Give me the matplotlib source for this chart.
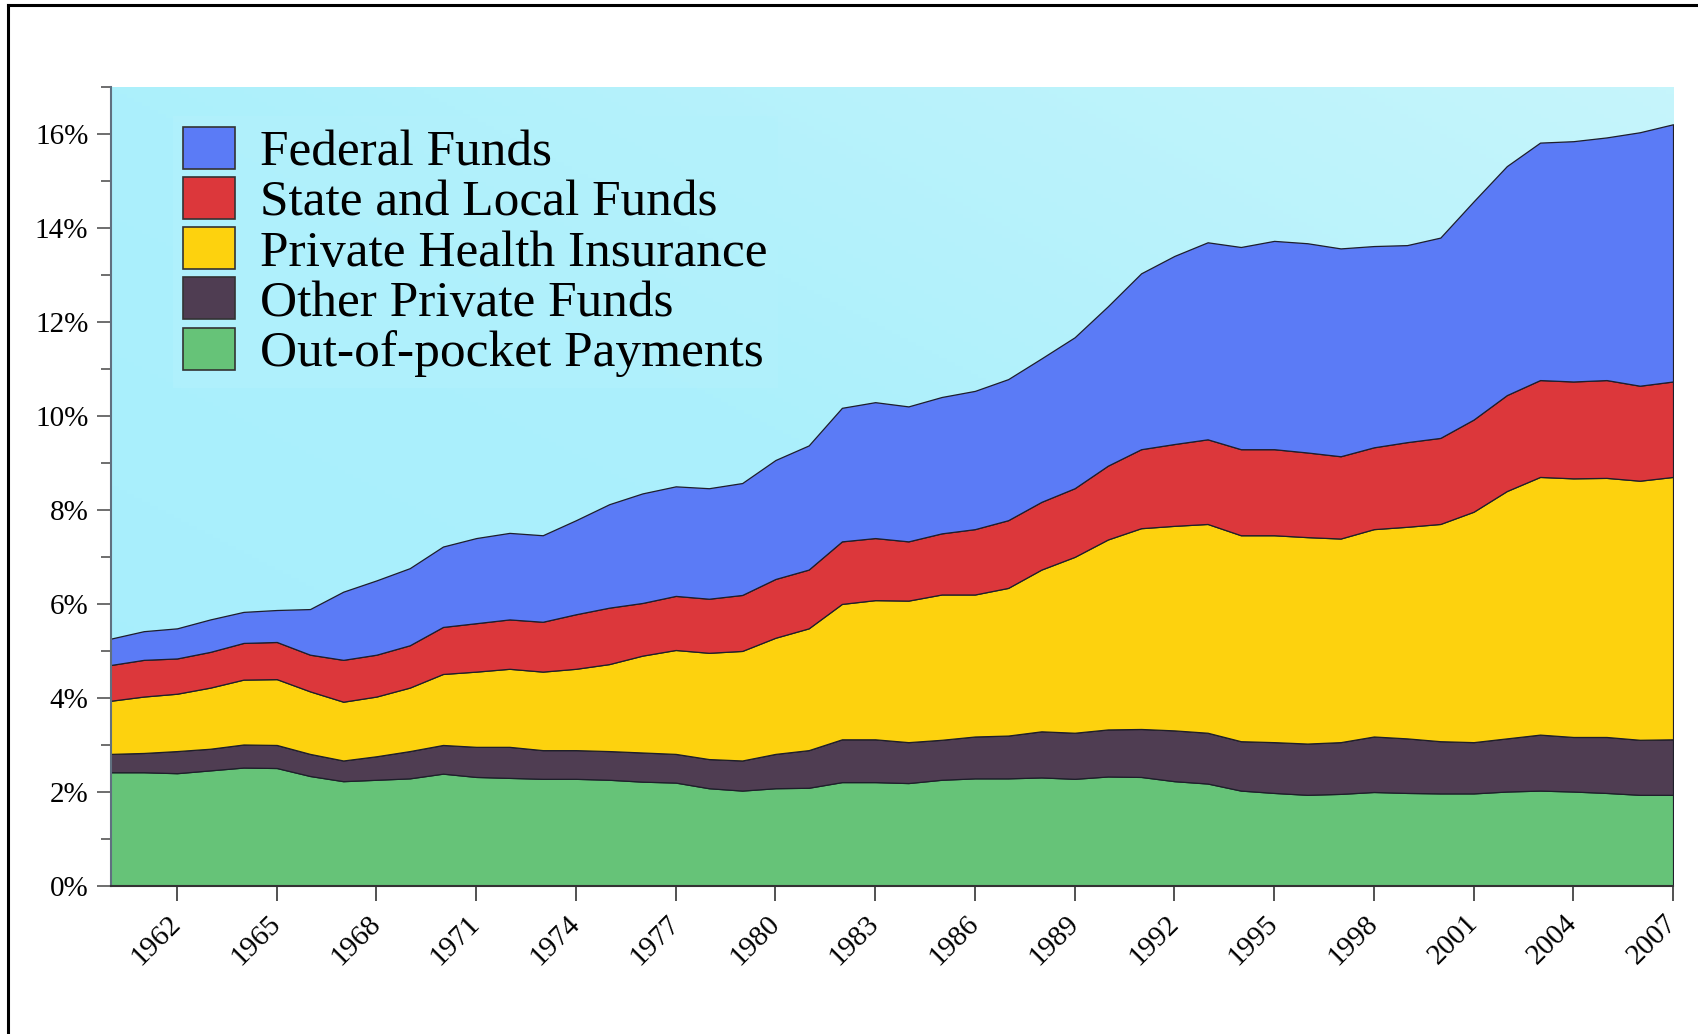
import numpy as np
import matplotlib
matplotlib.use('Agg')
import matplotlib.pyplot as plt
from matplotlib.colors import LinearSegmentedColormap
from matplotlib.ticker import MultipleLocator, FuncFormatter

years = np.arange(1960, 2008)

# share of GDP (%) by source of funds
out_of_pocket = [2.42, 2.42, 2.40, 2.46, 2.52, 2.51, 2.34, 2.23, 2.26, 2.29,
                 2.39, 2.32, 2.30, 2.28, 2.28, 2.26, 2.22, 2.20, 2.08, 2.03,
                 2.08, 2.09, 2.21, 2.21, 2.19, 2.26, 2.29, 2.29, 2.31, 2.28,
                 2.33, 2.32, 2.23, 2.18, 2.03, 1.98, 1.94, 1.96, 2.00, 1.98,
                 1.97, 1.97, 2.01, 2.03, 2.01, 1.98, 1.94, 1.94]
other_private = [0.39, 0.41, 0.47, 0.46, 0.49, 0.49, 0.47, 0.44, 0.50, 0.58,
                 0.61, 0.64, 0.66, 0.61, 0.61, 0.61, 0.62, 0.61, 0.62, 0.64,
                 0.73, 0.80, 0.91, 0.91, 0.87, 0.85, 0.89, 0.91, 0.98, 0.98,
                 1.00, 1.02, 1.08, 1.08, 1.05, 1.08, 1.09, 1.10, 1.18, 1.16,
                 1.11, 1.09, 1.13, 1.19, 1.16, 1.19, 1.17, 1.18]
private_ins = [1.13, 1.20, 1.22, 1.30, 1.38, 1.40, 1.33, 1.25, 1.27, 1.35,
               1.51, 1.60, 1.66, 1.67, 1.73, 1.85, 2.06, 2.21, 2.26, 2.33,
               2.47, 2.59, 2.88, 2.96, 3.01, 3.09, 3.02, 3.14, 3.44, 3.74,
               4.04, 4.27, 4.35, 4.44, 4.38, 4.40, 4.39, 4.33, 4.41, 4.50,
               4.62, 4.90, 5.26, 5.48, 5.50, 5.51, 5.51, 5.58]
state_local = [0.76, 0.78, 0.75, 0.76, 0.78, 0.79, 0.78, 0.89, 0.89, 0.90,
               1.00, 1.03, 1.05, 1.06, 1.16, 1.20, 1.12, 1.15, 1.15, 1.19,
               1.25, 1.25, 1.33, 1.32, 1.26, 1.30, 1.39, 1.44, 1.44, 1.46,
               1.57, 1.68, 1.74, 1.80, 1.83, 1.83, 1.80, 1.75, 1.74, 1.80,
               1.83, 1.96, 2.04, 2.06, 2.06, 2.08, 2.02, 2.03]
federal = [0.56, 0.61, 0.64, 0.69, 0.66, 0.68, 0.97, 1.45, 1.58, 1.64,
           1.71, 1.81, 1.84, 1.84, 2.00, 2.20, 2.33, 2.33, 2.35, 2.38,
           2.53, 2.64, 2.84, 2.89, 2.87, 2.90, 2.94, 3.00, 3.05, 3.21,
           3.39, 3.74, 4.00, 4.19, 4.30, 4.43, 4.45, 4.42, 4.28, 4.19,
           4.26, 4.64, 4.87, 5.05, 5.11, 5.16, 5.39, 5.47]

labels = ['Out-of-pocket Payments', 'Other Private Funds',
          'Private Health Insurance', 'State and Local Funds', 'Federal Funds']
colors = ['#66c378', '#4f3d52', '#fdd20e', '#dc373b', '#5b7bf6']
tick_years = np.arange(1962, 2008, 3)

plt.rcParams['font.family'] = ['Liberation Serif', 'DejaVu Serif']

fig = plt.figure(figsize=(16.98, 10.34), dpi=100)
ax = fig.add_axes([0.0651, 0.1431, 0.9202, 0.7731])

# light cyan gradient background
grad = np.add.outer(np.linspace(0, 1, 200), np.linspace(0, 1, 200)) / 2
bg = LinearSegmentedColormap.from_list('bg', ['#a6eefc', '#acf0fc', '#c6f5fb'])
ax.imshow(grad, cmap=bg, extent=(1960, 2007, 0, 17), origin='lower',
          aspect='auto', zorder=0)

polys = ax.stackplot(years, out_of_pocket, other_private, private_ins,
                     state_local, federal, colors=colors, labels=labels,
                     edgecolor='#1e1e2a', linewidth=0.9, zorder=2)

ax.set_xlim(1960, 2007)
ax.set_ylim(0, 17)

ax.yaxis.set_major_locator(MultipleLocator(2))
ax.yaxis.set_minor_locator(MultipleLocator(1))
ax.yaxis.set_major_formatter(FuncFormatter(lambda v, p: '%d%%' % v))
ax.set_xticks(tick_years)
ax.set_xticklabels([str(y) for y in tick_years], rotation=45, ha='right',
                   va='center', rotation_mode='anchor', fontsize=21)
ax.tick_params(axis='x', length=11, width=1.2, color='#333333', pad=13)
ax.tick_params(axis='y', which='major', length=10, width=1.2,
               color='#555555', labelsize=21, pad=6)
ax.tick_params(axis='y', which='minor', length=7, width=1.2, color='#555555')

for s in ['top', 'right']:
    ax.spines[s].set_visible(False)
ax.spines['left'].set_color('#607080')
ax.spines['left'].set_linewidth(1.5)
ax.spines['bottom'].set_color('#333333')
ax.spines['bottom'].set_linewidth(1.5)

handles, labs = ax.get_legend_handles_labels()
leg = ax.legend(handles[::-1], labs[::-1], loc='upper left',
                bbox_to_anchor=(0.0235, 0.995), fontsize=37,
                frameon=True, facecolor='#b3f1fc', edgecolor='none',
                framealpha=0.6, fancybox=False, handlelength=1.0,
                handleheight=0.88, handletextpad=0.5, labelspacing=0.01,
                borderpad=0.2)
for h in leg.legend_handles:
    h.set_edgecolor('#333333')
    h.set_linewidth(1.2)

# black frame at the top and left of the slide
fig.add_artist(plt.Line2D([0.0045, 1.0], [0.9948, 0.9948], color='black',
                          linewidth=2.2, transform=fig.transFigure))
fig.add_artist(plt.Line2D([0.0045, 0.0045], [0.0, 0.9948], color='black',
                          linewidth=2.2, transform=fig.transFigure))

fig.savefig('out.png', dpi=100)
